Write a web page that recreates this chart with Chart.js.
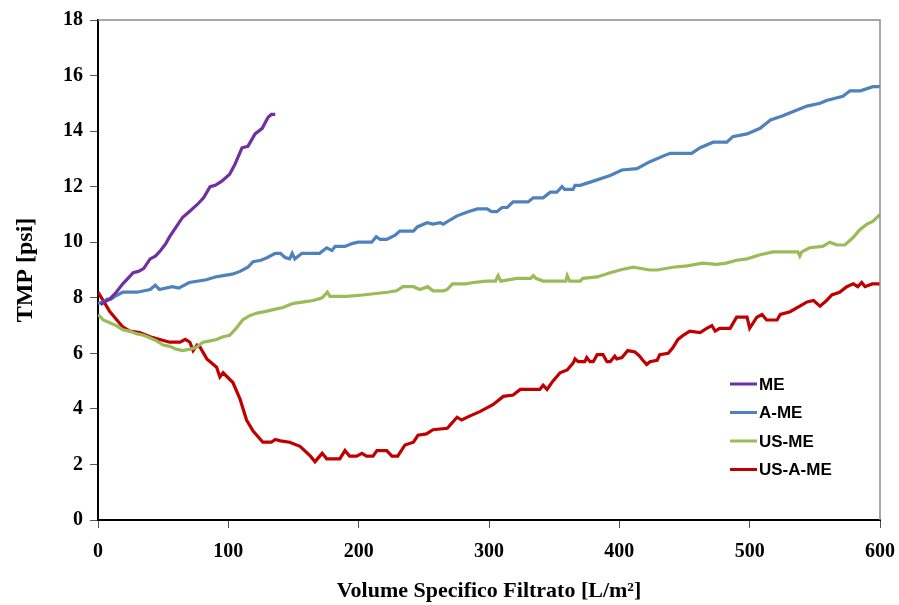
<!DOCTYPE html>
<html>
<head>
<meta charset="utf-8">
<script src="https://cdn.jsdelivr.net/npm/chart.js@4/dist/chart.umd.min.js"></script>
<style>
  html, body { margin: 0; padding: 0; background: #fff; }
  #wrap { width: 899px; height: 605px; position: relative; }
</style>
</head>
<body>
<div id="wrap"><canvas id="c" width="899" height="605"></canvas></div>
<script>
// Axis ticks
const xTicks = [0, 100, 200, 300, 400, 500, 600];
const yTicks = [0, 2, 4, 6, 8, 10, 12, 14, 16, 18];

// Series labels
const seriesNames = ['ME', 'A-ME', 'US-ME', 'US-A-ME'];

// ME
const meX = [2, 5, 9, 14, 19, 23, 27, 31, 35, 40, 44, 48, 52, 55, 60, 65, 70, 76, 81, 86, 90, 95, 101, 105, 110.5, 115, 120.5, 126, 130.5, 133, 136];
const meY = [7.75, 7.85, 7.95, 8.2, 8.5, 8.7, 8.9, 8.95, 9.05, 9.4, 9.5, 9.7, 9.95, 10.2, 10.55, 10.9, 11.1, 11.35, 11.6, 12.0, 12.05, 12.2, 12.45, 12.8, 13.4, 13.45, 13.9, 14.1, 14.5, 14.6, 14.6];

// A-ME
const ameX = [0, 4, 7, 10, 13, 19, 30, 40, 44, 47, 57, 62, 70, 83, 90, 96, 103, 109, 115, 119, 125, 130, 136, 140, 143.5, 147, 149, 151, 156.5, 170, 175.5, 179.5, 182, 189.5, 195, 199.5, 210, 213.5, 216.5, 221.5, 228, 231.5, 242, 245, 252.5, 257, 262.5, 265, 270, 275.5, 284, 291, 298.5, 302, 306, 310, 314, 318.5, 330, 334, 341.5, 347, 352, 356, 358, 364.5, 366, 370, 380, 393, 402, 413.5, 423.5, 433.5, 439, 455.5, 462, 472, 482.5, 487, 498, 508, 516, 525.5, 533, 544, 554, 559, 571.5, 577, 585, 594.5, 600];
const ameY = [7.8, 7.85, 7.95, 7.95, 8.05, 8.2, 8.2, 8.3, 8.45, 8.3, 8.4, 8.35, 8.55, 8.65, 8.75, 8.8, 8.85, 8.95, 9.1, 9.3, 9.35, 9.45, 9.6, 9.6, 9.45, 9.4, 9.6, 9.4, 9.6, 9.6, 9.8, 9.7, 9.85, 9.85, 9.95, 10.0, 10.0, 10.2, 10.1, 10.1, 10.25, 10.4, 10.4, 10.55, 10.7, 10.65, 10.7, 10.65, 10.8, 10.95, 11.1, 11.2, 11.2, 11.1, 11.1, 11.25, 11.25, 11.45, 11.45, 11.6, 11.6, 11.8, 11.8, 12.0, 11.9, 11.9, 12.05, 12.05, 12.2, 12.4, 12.6, 12.65, 12.9, 13.1, 13.2, 13.2, 13.4, 13.6, 13.6, 13.8, 13.9, 14.1, 14.4, 14.55, 14.7, 14.9, 15.0, 15.1, 15.25, 15.45, 15.45, 15.6, 15.6];

// US-ME
const usmeX = [0, 4, 9, 14, 19, 24, 30, 35, 40, 45, 50, 55, 60, 65, 70.5, 75, 80.5, 86, 91, 96, 101, 106, 111, 116, 122, 128, 137, 142, 147, 150, 158, 165, 172, 176, 178, 191, 203, 222, 229, 234, 242, 247, 253, 257, 265, 268, 272, 282, 288, 298, 305, 307, 309, 321.5, 332, 334, 336, 341.5, 359, 360, 362, 370, 372, 383, 393, 400.5, 410.5, 423.5, 429, 441, 452, 464, 474.5, 482, 490, 498, 508, 518, 528.5, 537, 538.5, 540, 546, 556, 561.5, 567, 573, 579, 584.5, 590, 594.5, 600];
const usmeY = [7.4, 7.2, 7.1, 7.0, 6.85, 6.8, 6.7, 6.65, 6.55, 6.45, 6.3, 6.25, 6.15, 6.1, 6.15, 6.2, 6.4, 6.45, 6.5, 6.6, 6.65, 6.9, 7.2, 7.35, 7.45, 7.5, 7.6, 7.65, 7.75, 7.8, 7.85, 7.9, 8.0, 8.2, 8.05, 8.05, 8.1, 8.2, 8.25, 8.4, 8.4, 8.3, 8.4, 8.25, 8.25, 8.3, 8.5, 8.5, 8.55, 8.6, 8.6, 8.8, 8.6, 8.7, 8.7, 8.8, 8.7, 8.6, 8.6, 8.8, 8.6, 8.6, 8.7, 8.75, 8.9, 9.0, 9.1, 9.0, 9.0, 9.1, 9.15, 9.25, 9.2, 9.25, 9.35, 9.4, 9.55, 9.65, 9.65, 9.65, 9.5, 9.65, 9.8, 9.85, 10.0, 9.9, 9.9, 10.15, 10.45, 10.65, 10.75, 11.0];

// US-A-ME
const usameX = [0, 4, 9, 14.5, 19, 24.5, 32, 40, 47.5, 55, 63, 67, 70.5, 73, 76, 78, 83.5, 91, 93.5, 96, 103.5, 109, 114, 119, 126.5, 133, 136, 140, 147, 155, 163, 166.5, 172, 175.5, 185.5, 189.5, 193, 198.5, 202.5, 206, 211, 214, 221.5, 225.5, 230, 235.5, 242, 245.5, 252, 257, 268, 275.5, 279, 285.5, 293, 303, 311, 318.5, 324, 339, 341.5, 344.5, 349, 354.5, 360, 364.5, 366, 368.5, 373.5, 375, 377.5, 380, 383, 387.5, 390.5, 393, 396.5, 398, 402, 406.5, 412, 415.5, 418, 421, 423.5, 429, 431, 437.5, 441, 445, 449, 454, 462, 467, 471, 473.5, 477, 485, 490, 498, 500, 505.5, 509.5, 513, 521, 523.5, 531, 538.5, 544, 549, 554, 559, 563, 569, 574.5, 579.5, 583, 586, 588.5, 594, 600];
const usameY = [8.2, 7.9, 7.5, 7.2, 6.95, 6.8, 6.75, 6.6, 6.5, 6.4, 6.4, 6.5, 6.4, 6.1, 6.3, 6.25, 5.8, 5.5, 5.15, 5.3, 4.95, 4.35, 3.6, 3.2, 2.8, 2.8, 2.9, 2.85, 2.8, 2.65, 2.3, 2.1, 2.4, 2.2, 2.2, 2.5, 2.3, 2.3, 2.4, 2.3, 2.3, 2.5, 2.5, 2.3, 2.3, 2.7, 2.8, 3.05, 3.1, 3.25, 3.3, 3.7, 3.6, 3.75, 3.9, 4.15, 4.45, 4.5, 4.7, 4.7, 4.85, 4.7, 5.0, 5.3, 5.4, 5.65, 5.8, 5.7, 5.7, 5.85, 5.7, 5.7, 5.95, 5.95, 5.7, 5.7, 5.9, 5.8, 5.85, 6.1, 6.05, 5.9, 5.75, 5.6, 5.7, 5.75, 5.95, 6.0, 6.2, 6.5, 6.65, 6.8, 6.75, 6.9, 7.0, 6.8, 6.9, 6.9, 7.3, 7.3, 6.9, 7.3, 7.4, 7.2, 7.2, 7.4, 7.5, 7.7, 7.85, 7.9, 7.7, 7.9, 8.1, 8.2, 8.4, 8.5, 8.4, 8.55, 8.4, 8.5, 8.5];

const seriesColors = ['#7030A0', '#4F81BD', '#9BBB59', '#C00000'];

function pts(xs, ys) { return xs.map((x, i) => ({ x: x, y: ys[i] })); }

const seriesData = [pts(meX, meY), pts(ameX, ameY), pts(usmeX, usmeY), pts(usameX, usameY)];

// Gray frame on the top and right edges of the plot area
const frame = {
  id: 'frame',
  afterDatasetsDraw(chart) {
    const { ctx, chartArea: a } = chart;
    ctx.save();
    ctx.strokeStyle = '#8c8c8c';
    ctx.lineWidth = 1.5;
    ctx.beginPath();
    ctx.moveTo(a.left, a.top);
    ctx.lineTo(a.right, a.top);
    ctx.lineTo(a.right, a.bottom);
    ctx.stroke();
    ctx.restore();
  }
};

// Legend box drawn inside the plot area
const innerLegend = {
  id: 'innerLegend',
  afterDraw(chart) {
    const { ctx, chartArea: a } = chart;
    const x0 = a.right - 150;
    const y0 = a.top + 364;
    const step = 28.5;
    ctx.save();
    ctx.font = 'bold 17px "Liberation Sans", Arial, sans-serif';
    ctx.textBaseline = 'middle';
    ctx.textAlign = 'left';
    chart.data.datasets.forEach((ds, i) => {
      const y = y0 + i * step;
      ctx.strokeStyle = ds.borderColor;
      ctx.lineWidth = 3;
      ctx.beginPath();
      ctx.moveTo(x0, y);
      ctx.lineTo(x0 + 27, y);
      ctx.stroke();
      ctx.fillStyle = '#000';
      ctx.fillText(ds.label, x0 + 29, y + 1);
    });
    ctx.restore();
  }
};

const tickFont = { family: '"Liberation Serif", "Times New Roman", serif', size: 20, weight: 'bold' };

new Chart(document.getElementById('c'), {
  type: 'line',
  data: {
    datasets: seriesNames.map((name, i) => ({
      label: name,
      data: seriesData[i],
      borderColor: seriesColors[i],
      backgroundColor: seriesColors[i],
      borderWidth: 3.2,
      pointRadius: 0,
      tension: 0,
      fill: false
    }))
  },
  options: {
    responsive: false,
    animation: false,
    layout: { padding: { top: 20, right: 19, left: 0, bottom: 0 } },
    plugins: {
      legend: { display: false },
      tooltip: { enabled: false }
    },
    scales: {
      x: {
        type: 'linear',
        min: xTicks[0],
        max: xTicks[xTicks.length - 1],
        afterBuildTicks(scale) { scale.ticks = xTicks.map(v => ({ value: v })); },
        afterFit(scale) { scale.height = 85; scale.paddingLeft = 0; scale.paddingRight = 0; },
        grid: { drawOnChartArea: false, drawTicks: true, tickLength: 8, color: '#555', lineWidth: 1 },
        border: { display: true, color: '#000', width: 2 },
        ticks: { color: '#000', font: tickFont, padding: 12, maxRotation: 0 },
        title: {
          display: true,
          text: 'Volume Specifico Filtrato [L/m²]',
          color: '#000',
          font: { family: '"Liberation Serif", "Times New Roman", serif', size: 22, weight: 'bold' },
          padding: { top: 0, bottom: 0 }
        }
      },
      y: {
        type: 'linear',
        min: yTicks[0],
        max: yTicks[yTicks.length - 1],
        afterBuildTicks(scale) { scale.ticks = yTicks.map(v => ({ value: v })); },
        afterFit(scale) { scale.width = 98; scale.paddingTop = 0; scale.paddingBottom = 0; },
        grid: { drawOnChartArea: false, drawTicks: true, tickLength: 8, color: '#555', lineWidth: 1 },
        border: { display: true, color: '#000', width: 2 },
        ticks: { color: '#000', font: tickFont, padding: 7 },
        title: {
          display: true,
          text: 'TMP [psi]',
          color: '#000',
          font: { family: '"Liberation Serif", "Times New Roman", serif', size: 24, weight: 'bold' },
          padding: { top: 11, bottom: 0 }
        }
      }
    }
  },
  plugins: [frame, innerLegend]
});
</script>
</body>
</html>
